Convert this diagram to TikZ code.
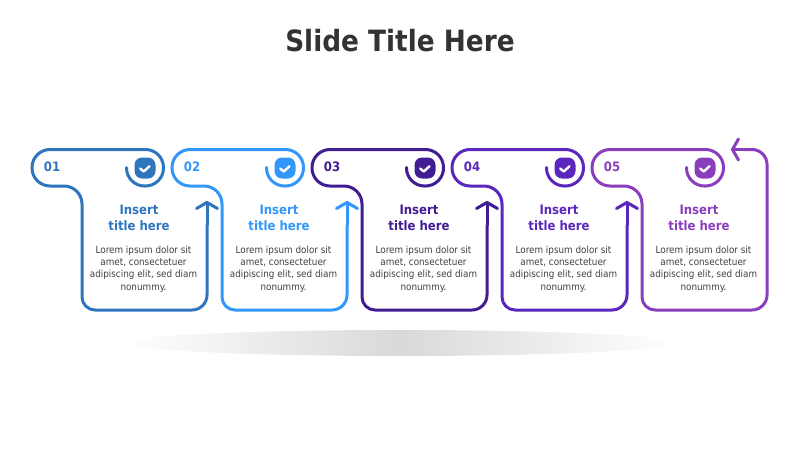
\documentclass[tikz,border=0pt]{standalone}
\usepackage{fontspec}
\setmainfont{DejaVu Sans Condensed}
\usepackage{tikz}
\usetikzlibrary{arrows.meta, positioning, shapes.geometric}

\definecolor{cardone}{HTML}{2E75BE}
\definecolor{cardtwo}{HTML}{3296FB}
\definecolor{cardthree}{HTML}{421C93}
\definecolor{cardfour}{HTML}{5A26BE}
\definecolor{cardfive}{HTML}{8A3DBC}
\definecolor{bodygrey}{HTML}{404040}

\newcommand{\tabshape}{[rounded corners=18pt] -- ++(0,18.5) -- ++(37,0) -- ++(0,-36.5) -- ++(-131.5,0) -- ++(0,36.5) -- ++(50,0)
    [rounded corners=13pt] -- ++(0,124) [rounded corners=15pt] -- ++(125,0)}

\tikzset{
    outline/.style={draw=#1, line width=3pt, line cap=round, line join=round},
    pointer/.style={outline=#1, -{Straight Barb[round, length=6pt, width=21pt, line width=3pt]}},
    number/.style={text=#1, font=\fontsize{13}{15}\selectfont\bfseries, inner sep=0pt},
    heading/.style={text=#1, font=\fontsize{13}{16}\selectfont\bfseries, align=center, inner sep=0pt},
    body/.style={text=bodygrey, font=\fontsize{9.8}{12.2}\selectfont, align=center, inner sep=0pt},
    badge/.style={fill=#1, rounded corners=7.5pt, minimum size=21pt, inner sep=0pt},
    tick/.pic={\draw [white, line width=2.4pt, line cap=round, line join=round] (-4.8,0.5) -- (-1.3,3.5) -- (4.6,-1.8);}
}

\begin{document}
\begin{tikzpicture}[x=1pt, y=-1pt]
    \useasboundingbox (0,0) rectangle (800,450);

    \node (title) at (400,41) [text=black!80, font=\fontsize{29.3}{36}\selectfont\bfseries, inner sep=0pt] {Slide Title Here};

    \node (shadow) at (400,343) [ellipse, minimum width=550pt, minimum height=26pt, inner sep=0pt,
        left color=white, right color=white, middle color=black!15] {};

    % first card
    \draw [outline=cardone] (126.5,167.5) \tabshape -- (207,225);
    \draw [pointer=cardone] (207,225) -- (207,201);
    \node (badge1) at (145,168) [badge=cardone] {};
    \pic at (badge1) {tick};
    \node (num1) at (52,167) [number=cardone] {01};
    \node (head1) at (139,218) [heading=cardone] {Insert\\title here};
    \node (text1) at (143.5,269) [body] {Lorem ipsum dolor sit\\amet, consectetuer\\adipiscing elit, sed diam\\nonummy.};

    % second card
    \draw [outline=cardtwo] (266.5,167.5) \tabshape -- (347,225);
    \draw [pointer=cardtwo] (347,225) -- (347,201);
    \node (badge2) [right of=badge1, node distance=140pt, badge=cardtwo] {};
    \pic at (badge2) {tick};
    \node (num2) [right of=num1, node distance=140pt, number=cardtwo] {02};
    \node (head2) [right of=head1, node distance=140pt, heading=cardtwo] {Insert\\title here};
    \node (text2) [right of=text1, node distance=140pt, body] {Lorem ipsum dolor sit\\amet, consectetuer\\adipiscing elit, sed diam\\nonummy.};

    % third card
    \draw [outline=cardthree] (406.5,167.5) \tabshape -- (487,225);
    \draw [pointer=cardthree] (487,225) -- (487,201);
    \node (badge3) [right of=badge2, node distance=140pt, badge=cardthree] {};
    \pic at (badge3) {tick};
    \node (num3) [right of=num2, node distance=140pt, number=cardthree] {03};
    \node (head3) [right of=head2, node distance=140pt, heading=cardthree] {Insert\\title here};
    \node (text3) [right of=text2, node distance=140pt, body] {Lorem ipsum dolor sit\\amet, consectetuer\\adipiscing elit, sed diam\\nonummy.};

    % fourth card
    \draw [outline=cardfour] (546.5,167.5) \tabshape -- (627,225);
    \draw [pointer=cardfour] (627,225) -- (627,201);
    \node (badge4) [right of=badge3, node distance=140pt, badge=cardfour] {};
    \pic at (badge4) {tick};
    \node (num4) [right of=num3, node distance=140pt, number=cardfour] {04};
    \node (head4) [right of=head3, node distance=140pt, heading=cardfour] {Insert\\title here};
    \node (text4) [right of=text3, node distance=140pt, body] {Lorem ipsum dolor sit\\amet, consectetuer\\adipiscing elit, sed diam\\nonummy.};

    % last card
    \draw [outline=cardfive] (686.5,167.5) \tabshape -- (767,149.5) -- (745,149.5);
    \draw [pointer=cardfive] (745,149.5) -- (731,149.5);
    \node (badge5) [right of=badge4, node distance=140pt, badge=cardfive] {};
    \pic at (badge5) {tick};
    \node (num5) [right of=num4, node distance=140pt, number=cardfive] {05};
    \node (head5) [right of=head4, node distance=140pt, heading=cardfive] {Insert\\title here};
    \node (text5) [right of=text4, node distance=140pt, body] {Lorem ipsum dolor sit\\amet, consectetuer\\adipiscing elit, sed diam\\nonummy.};
\end{tikzpicture}
\end{document}
